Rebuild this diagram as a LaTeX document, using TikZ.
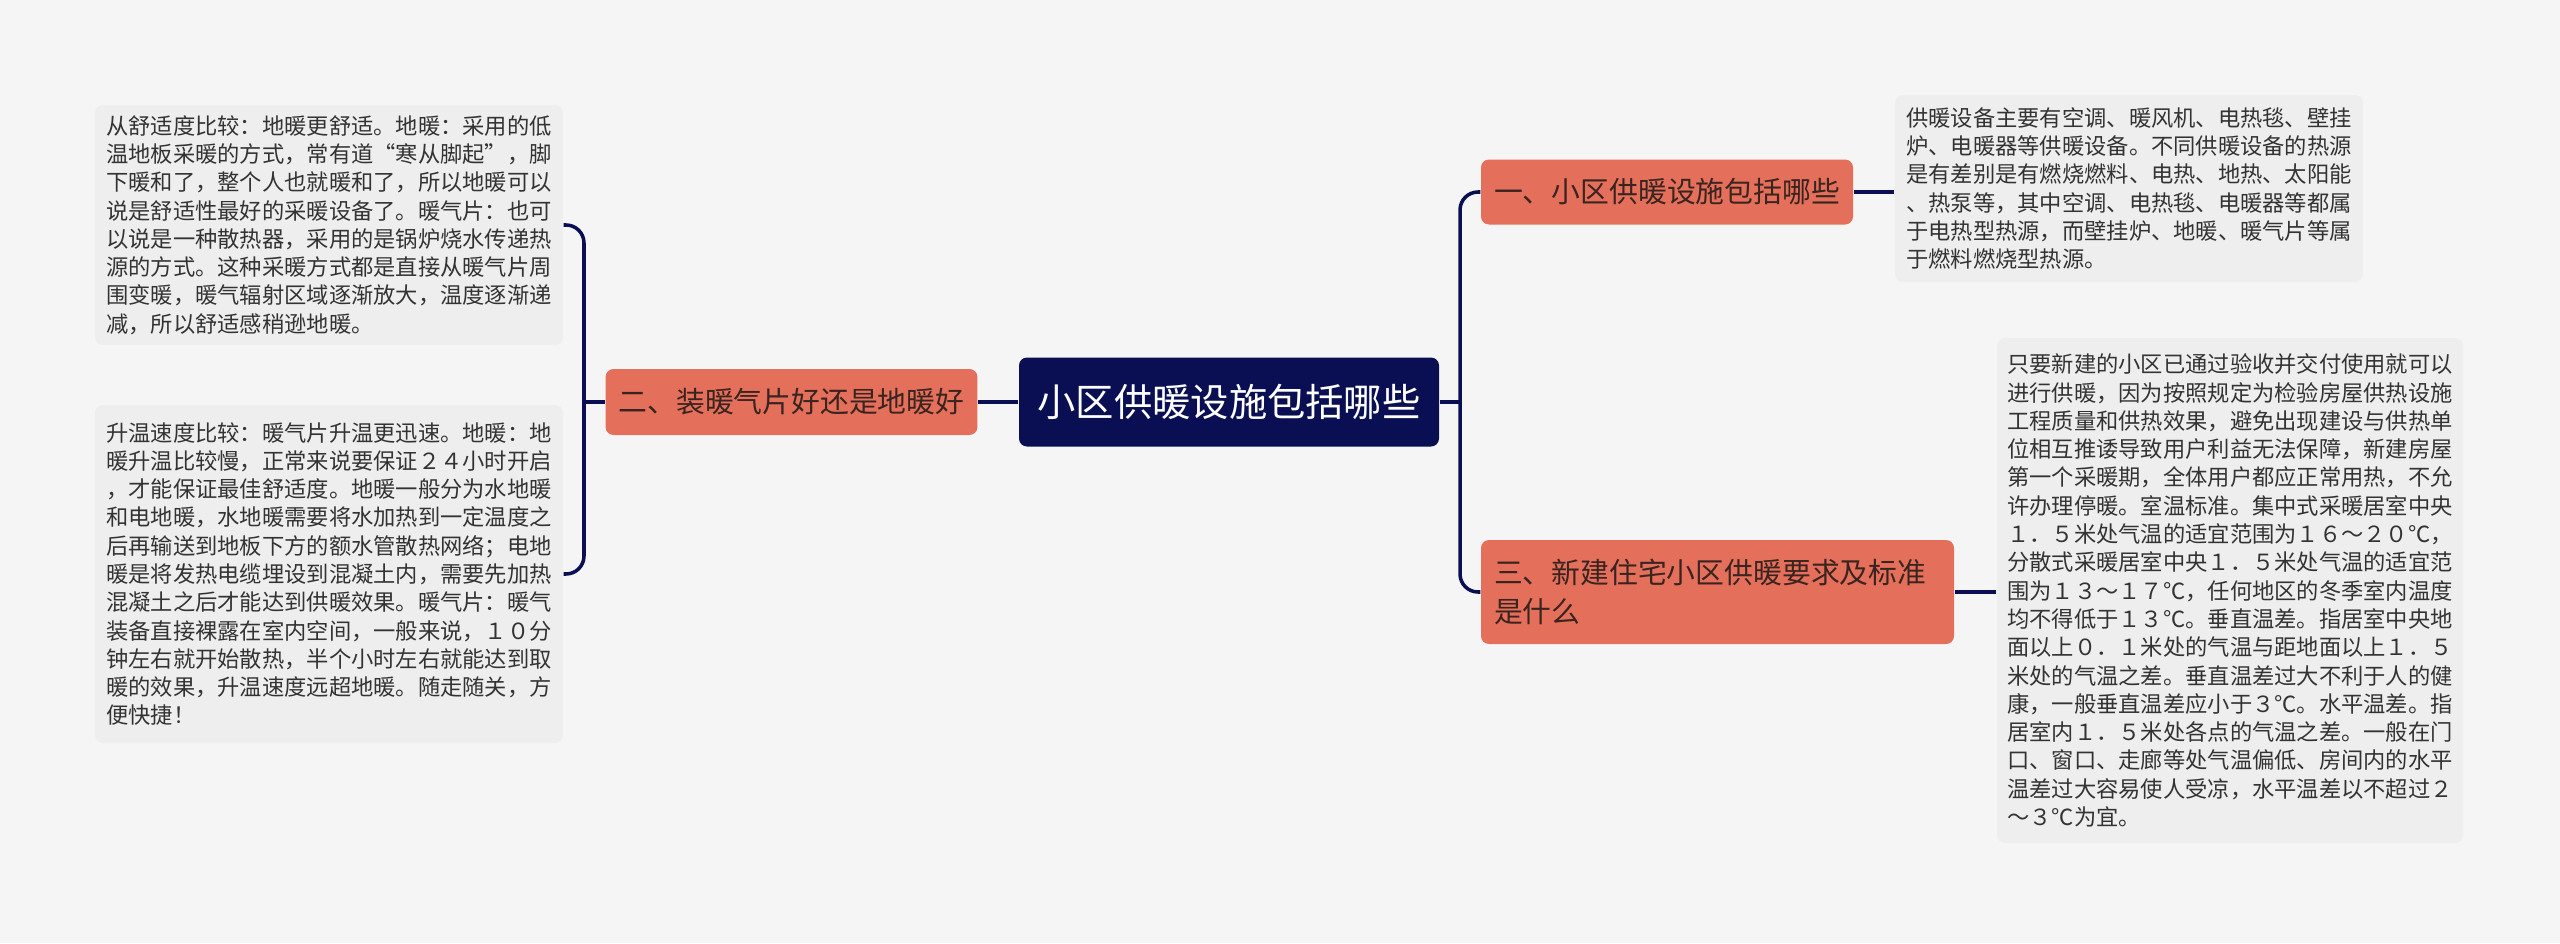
\documentclass[tikz,border=0pt]{standalone}
\usepackage{fontspec}
\setmainfont{Noto Sans CJK SC}
\usepackage{xcolor}
\usepackage{tikz}
\usetikzlibrary{positioning}
\definecolor{mmnavy}{HTML}{0A0E52}
\definecolor{mmcoral}{HTML}{E46F5A}
\definecolor{mmcard}{HTML}{EEEEEE}
\definecolor{mmbg}{HTML}{F5F5F5}
\definecolor{mmtext}{HTML}{333333}
\definecolor{mmbrtext}{HTML}{3A2420}
% full-width curly quotes
\newcommand{\fwopen}{\makebox[1em][r]{“}}
\newcommand{\fwclose}{\makebox[1em][l]{”}}

\begin{document}
\begin{tikzpicture}[
  rootbox/.style={rectangle, rounded corners=0.08cm, fill=mmnavy, text=white, font=\fontsize{10.9}{13}\selectfont, minimum width=4.20cm, minimum height=0.89cm, inner sep=0pt},
  branchbox/.style={rectangle, rounded corners=0.08cm, fill=mmcoral, text=mmbrtext, font=\fontsize{8.2}{10.9}\selectfont, inner xsep=0.13cm, inner ysep=0pt, align=left},
  cardbox/.style={rectangle, rounded corners=0.08cm, fill=mmcard, text=mmtext, font=\fontsize{6.34}{8.05}\selectfont, align=left, inner sep=0pt, minimum width=4.68cm},
  link/.style={draw=mmnavy, line width=1pt},
  elbow/.style={link, rounded corners=0.18cm},
]
% canvas: 1 unit = 100 px of the 2560x943 frame
\fill[mmbg] (0,0) rectangle (25.60,9.43);
\def\ymid{5.41}

% centre and branches
\node[rootbox] (root) at (12.29,\ymid) {小区供暖设施包括哪些};
\node[branchbox, minimum width=3.71cm, minimum height=0.66cm] (br2) at (7.915,\ymid) {二、装暖气片好还是地暖好};
\node[branchbox, minimum width=3.72cm, minimum height=0.65cm] (br1) at (16.67,7.51) {一、小区供暖设施包括哪些};
\node[branchbox, text width=4.47cm, minimum height=1.04cm] (br3) at (17.175,3.51) {三、新建住宅小区供暖要求及标准\\是什么};

% leaf cards
\node[cardbox, minimum height=2.40cm] (lt) at (3.29,7.18) {%
从舒适度比较：地暖更舒适。地暖：采用的低\\
温地板采暖的方式，常有道\fwopen 寒从脚起\fwclose，脚\\
下暖和了，整个人也就暖和了，所以地暖可以\\
说是舒适性最好的采暖设备了。暖气片：也可\\
以说是一种散热器，采用的是锅炉烧水传递热\\
源的方式。这种采暖方式都是直接从暖气片周\\
围变暖，暖气辐射区域逐渐放大，温度逐渐递\\
减，所以舒适感稍逊地暖。};
\node[cardbox, minimum height=3.38cm] (lb) at (3.29,3.69) {%
升温速度比较：暖气片升温更迅速。地暖：地\\
暖升温比较慢，正常来说要保证２４小时开启\\
，才能保证最佳舒适度。地暖一般分为水地暖\\
和电地暖，水地暖需要将水加热到一定温度之\\
后再输送到地板下方的额水管散热网络；电地\\
暖是将发热电缆埋设到混凝土内，需要先加热\\
混凝土之后才能达到供暖效果。暖气片：暖气\\
装备直接裸露在室内空间，一般来说，１０分\\
钟左右就开始散热，半个小时左右就能达到取\\
暖的效果，升温速度远超地暖。随走随关，方\\
便快捷！};
\node[cardbox, minimum height=1.87cm] (rt) at (21.29,7.545) {%
供暖设备主要有空调、暖风机、电热毯、壁挂\\
炉、电暖器等供暖设备。不同供暖设备的热源\\
是有差别是有燃烧燃料、电热、地热、太阳能\\
、热泵等，其中空调、电热毯、电暖器等都属\\
于电热型热源，而壁挂炉、地暖、暖气片等属\\
于燃料燃烧型热源。};
\node[cardbox, minimum width=4.66cm, minimum height=5.05cm] (rb) at (22.30,3.525) {%
只要新建的小区已通过验收并交付使用就可以\\
进行供暖，因为按照规定为检验房屋供热设施\\
工程质量和供热效果，避免出现建设与供热单\\
位相互推诿导致用户利益无法保障，新建房屋\\
第一个采暖期，全体用户都应正常用热，不允\\
许办理停暖。室温标准。集中式采暖居室中央\\
１．５米处气温的适宜范围为１６～２０℃，\\
分散式采暖居室中央１．５米处气温的适宜范\\
围为１３～１７℃，任何地区的冬季室内温度\\
均不得低于１３℃。垂直温差。指居室中央地\\
面以上０．１米处的气温与距地面以上１．５\\
米处的气温之差。垂直温差过大不利于人的健\\
康，一般垂直温差应小于３℃。水平温差。指\\
居室内１．５米处各点的气温之差。一般在门\\
口、窗口、走廊等处气温偏低、房间内的水平\\
温差过大容易使人受凉，水平温差以不超过２\\
～３℃为宜。};

% right side connectors
\coordinate (rjn) at (14.60,\ymid);
\draw[link] (root.east) -- (rjn);
\draw[elbow] (rjn) |- (br1.west);
\draw[elbow] (rjn) |- (br3.west);
\draw[link] (br1.east) -- (br1.east -| rt.west);
\draw[link] (br3.east) -- (br3.east -| rb.west);

% left side connectors
\coordinate (ljn) at (5.84,\ymid);
\draw[link] (root.west) -- (br2.east);
\draw[link] (br2.west) -- (ljn);
\draw[elbow] (ljn) |- (lt.east);
\draw[elbow] (ljn) |- (lb.east);
\end{tikzpicture}
\end{document}
